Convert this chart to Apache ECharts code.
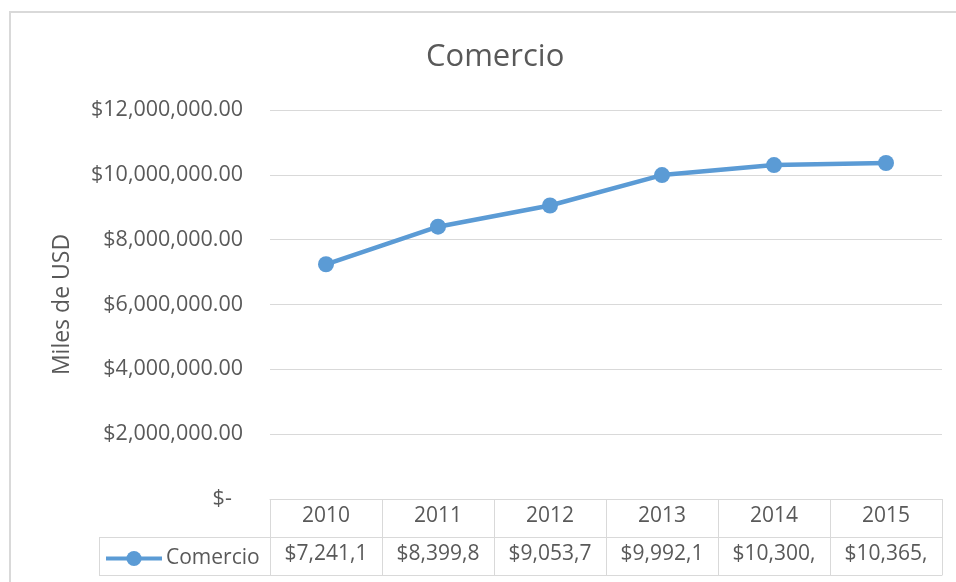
<!DOCTYPE html>
<html>
<head>
<meta charset="utf-8">
<script src="https://cdn.jsdelivr.net/npm/echarts@6/dist/echarts.min.js"></script>
<style>
  html, body { margin: 0; padding: 0; background: #fff; }
  #chart { width: 956px; height: 582px; }
</style>
</head>
<body>
<div id="chart"></div>
<script>
  // data
  var years = ['2010', '2011', '2012', '2013', '2014', '2015'];
  var comercio = [7241150, 8399820, 9053740, 9992130, 10300500, 10365400];
  var seriesName = 'Comercio';

  var gray = '#595959';
  var lineGray = '#d9d9d9';
  var blue = '#5b9bd5';
  var font = '"Open Sans", sans-serif';

  function money(v) {
    if (v === 0) return '$-  ';
    return '$' + v.toLocaleString('en-US', { minimumFractionDigits: 2, maximumFractionDigits: 2 });
  }

  var chart = echarts.init(document.getElementById('chart'));
  chart.setOption({
    animation: false,
    textStyle: { fontFamily: font },
    title: {
      text: seriesName,
      left: 421,
      top: 37,
      textStyle: { fontSize: 31, fontWeight: 'normal', color: gray, fontFamily: font }
    },
    legend: {
      data: [seriesName],
      left: 99,
      top: 543,
      itemWidth: 56,
      itemHeight: 19,
      itemGap: 4,
      lineStyle: { width: 4, color: blue },
      textStyle: { fontSize: 21, color: gray, fontFamily: font, padding: [0, 0, 0, -1] }
    },
    grid: { left: 270, right: 14, top: 110, bottom: 83 },
    xAxis: [
      {
        type: 'category',
        data: years,
        axisLine: { lineStyle: { color: lineGray, width: 1 } },
        axisTick: { show: true, length: 76, interval: 0, lineStyle: { color: lineGray } },
        axisLabel: { margin: 7, fontSize: 21, color: gray, fontFamily: font }
      },
      {
        type: 'category',
        data: years,
        position: 'bottom',
        offset: 38,
        axisLine: { show: true, lineStyle: { color: lineGray, width: 1 } },
        axisTick: { show: false },
        axisLabel: {
          margin: 7, fontSize: 21, color: gray, fontFamily: font,
          formatter: function (v, i) { return money(comercio[i]).slice(0, 8); }
        }
      },
      {
        type: 'category',
        data: years,
        position: 'bottom',
        offset: 76,
        axisLine: { show: true, lineStyle: { color: lineGray, width: 1 } },
        axisTick: { show: false },
        axisLabel: { show: false }
      }
    ],
    yAxis: {
      type: 'value',
      min: 0,
      max: 12000000,
      interval: 2000000,
      name: 'Miles de USD',
      nameLocation: 'middle',
      nameGap: 196,
      nameRotate: 90,
      nameTextStyle: { fontSize: 23, color: gray, fontFamily: font },
      axisLine: { show: false },
      axisTick: { show: false },
      splitLine: { lineStyle: { color: lineGray, width: 1 } },
      axisLabel: { margin: 27, fontSize: 21.5, color: gray, fontFamily: font, formatter: money }
    },
    series: [{
      name: seriesName,
      type: 'line',
      data: comercio,
      symbol: 'circle',
      symbolSize: 16,
      lineStyle: { color: blue, width: 4.5 },
      itemStyle: { color: blue }
    }],
    graphic: [
      { type: 'rect', shape: { x: 10, y: 12, width: 1200, height: 1200 },
        style: { fill: 'none', stroke: lineGray, lineWidth: 2 }, z: -10 },
      // legend cell of the data table
      { type: 'line', shape: { x1: 99, y1: 537.5, x2: 270, y2: 537.5 }, style: { stroke: lineGray, lineWidth: 1 } },
      { type: 'line', shape: { x1: 99, y1: 575.5, x2: 270, y2: 575.5 }, style: { stroke: lineGray, lineWidth: 1 } },
      { type: 'line', shape: { x1: 99.5, y1: 537, x2: 99.5, y2: 576 }, style: { stroke: lineGray, lineWidth: 1 } }
    ]
  });
</script>
</body>
</html>
